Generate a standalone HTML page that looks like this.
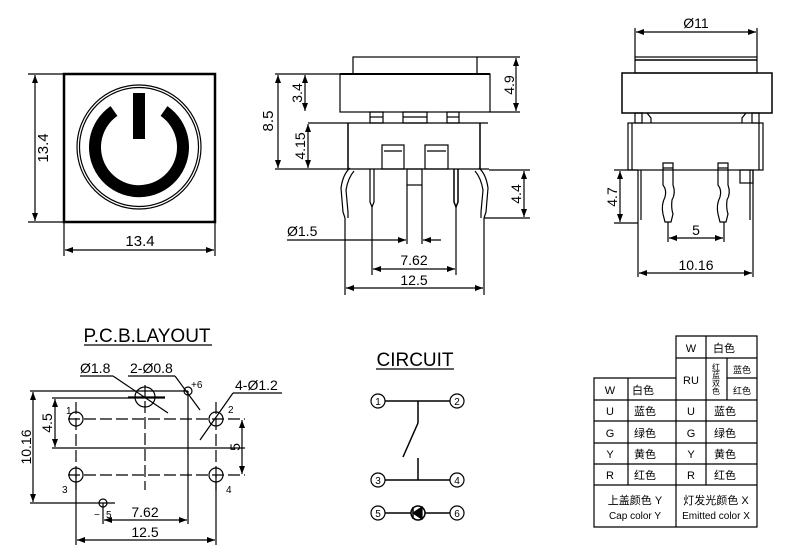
<!DOCTYPE html>
<html><head><meta charset="utf-8"><style>
html,body{margin:0;padding:0;background:#fff}
svg{display:block}
text{font-family:"Liberation Sans","Noto Sans CJK SC",sans-serif;fill:#000}
</style></head><body>
<svg width="800" height="558" viewBox="0 0 800 558" xmlns="http://www.w3.org/2000/svg">
<defs>
<marker id="a" markerWidth="8" markerHeight="6" refX="8" refY="3" orient="auto-start-reverse" markerUnits="userSpaceOnUse"><path d="M0,0 L8,3 L0,6 z" fill="#000"/></marker>
</defs>
<g stroke="#000" fill="none" stroke-width="1.2">
<!-- FRONT VIEW -->
<rect x="64" y="74" width="151" height="148" stroke-width="2.5"/>
<circle cx="139" cy="147" r="62"/>
<circle cx="139" cy="147" r="59.5"/>
<path d="M114,111 A44,44 0 1 0 164,111" stroke-width="12"/>
<rect x="133" y="93" width="12" height="46" fill="#000" stroke="none"/>
<line x1="28" y1="74" x2="64" y2="74"/><line x1="28" y1="222" x2="64" y2="222"/>
<line x1="35" y1="75" x2="35" y2="221" marker-start="url(#a)" marker-end="url(#a)"/>
<line x1="64" y1="222" x2="64" y2="256"/><line x1="215" y1="222" x2="215" y2="256"/>
<line x1="65" y1="250" x2="214" y2="250" marker-start="url(#a)" marker-end="url(#a)"/>

<!-- SIDE VIEW -->
<rect x="353" y="57" width="124" height="17"/>
<line x1="340" y1="74" x2="490" y2="74" stroke-width="2"/>
<rect x="340" y="74" width="150" height="38"/>
<rect x="370" y="112" width="13" height="11"/><line x1="370" y1="117" x2="383" y2="117"/>
<rect x="403" y="112" width="24" height="11"/><line x1="403" y1="117" x2="427" y2="117"/>
<rect x="447" y="112" width="12" height="11"/><line x1="447" y1="117" x2="459" y2="117"/>
<line x1="308" y1="123" x2="488" y2="123"/>
<line x1="348" y1="123" x2="348" y2="169" stroke-width="1.5"/><line x1="480" y1="123" x2="480" y2="169" stroke-width="1.5"/>
<line x1="275" y1="169" x2="489" y2="169"/>
<rect x="382" y="145" width="22" height="24"/><line x1="384" y1="151" x2="402" y2="151"/>
<rect x="425" y="145" width="23" height="24"/><line x1="427" y1="151" x2="446" y2="151"/>
<path d="M370,169 V202 L372,207 L374,202 V169"/>
<path d="M454,169 V202 L456,207 L458,202 V169" stroke-width="1.5"/>
<rect x="407" y="169" width="15" height="16"/>
<line x1="407" y1="185" x2="407" y2="244"/><line x1="422" y1="185" x2="422" y2="244"/>
<line x1="372" y1="207" x2="372" y2="275"/><line x1="456" y1="207" x2="456" y2="275"/>
<path d="M350,168 Q343,174 341,188 L343,212 L345,218 M354,171 Q348,178 346,190 L348,212 L348,218"/>
<path d="M479,168 Q486,174 488,188 L486,212 L484,218 M475,171 Q481,178 483,190 L481,212 L481,218"/>
<line x1="345" y1="218" x2="345" y2="295"/><line x1="484" y1="218" x2="484" y2="295"/>
<line x1="484" y1="218" x2="530" y2="218"/><line x1="489" y1="170" x2="530" y2="170"/>
<line x1="524" y1="171" x2="524" y2="217" marker-start="url(#a)" marker-end="url(#a)"/>
<line x1="275" y1="74" x2="340" y2="74"/>
<line x1="278" y1="75" x2="278" y2="168" marker-start="url(#a)" marker-end="url(#a)"/>
<line x1="305" y1="75" x2="305" y2="111" marker-start="url(#a)" marker-end="url(#a)"/>
<line x1="308" y1="124" x2="308" y2="168" marker-start="url(#a)" marker-end="url(#a)"/>
<line x1="477" y1="57" x2="520" y2="57"/><line x1="490" y1="112" x2="520" y2="112"/>
<line x1="516" y1="58" x2="516" y2="111" marker-start="url(#a)" marker-end="url(#a)"/>
<line x1="287" y1="240" x2="406" y2="240" marker-end="url(#a)"/>
<line x1="441" y1="240" x2="423" y2="240" marker-end="url(#a)"/>
<line x1="373" y1="269" x2="455" y2="269" marker-start="url(#a)" marker-end="url(#a)"/>
<line x1="346" y1="288" x2="483" y2="288" marker-start="url(#a)" marker-end="url(#a)"/>

<!-- RIGHT VIEW -->
<rect x="635" y="57" width="122" height="16"/><line x1="635" y1="60" x2="757" y2="60" stroke-width="1.5"/>
<line x1="635" y1="57" x2="635" y2="28"/><line x1="757" y1="57" x2="757" y2="28"/>
<line x1="636" y1="32" x2="756" y2="32" marker-start="url(#a)" marker-end="url(#a)"/>
<rect x="622" y="73" width="150" height="40" stroke-width="1.5"/>
<rect x="635" y="113" width="7" height="10"/><rect x="752" y="113" width="7" height="10"/>
<path d="M647,113 L651,118 V123 M746,113 L742,118 V123"/>
<rect x="628" y="123" width="135" height="47"/>
<line x1="632" y1="123" x2="632" y2="170"/><line x1="759" y1="123" x2="759" y2="170"/>
<path d="M638,170 V222 M641,170 V220 M750,170 V220 M753,170 V222"/>
<rect x="740" y="170" width="13" height="13"/>
<path d="M663,163 H673 V185 Q676,193 672,200 Q671,208 673,214 L671,222 H665 L663,214 Q661,205 665,197 Q667,190 663,185 Z"/>
<line x1="663" y1="168" x2="673" y2="168"/>
<path d="M718,163 H728 V185 Q731,193 727,200 Q726,208 728,214 L726,222 H720 L718,214 Q716,205 720,197 Q722,190 718,185 Z"/>
<line x1="718" y1="168" x2="728" y2="168"/>
<line x1="614" y1="170" x2="638" y2="170"/><line x1="614" y1="223" x2="638" y2="223"/>
<line x1="620" y1="171" x2="620" y2="222" marker-start="url(#a)" marker-end="url(#a)"/>
<line x1="668" y1="222" x2="668" y2="242"/><line x1="724" y1="222" x2="724" y2="242"/>
<line x1="669" y1="238" x2="723" y2="238" marker-start="url(#a)" marker-end="url(#a)"/>
<line x1="638" y1="222" x2="638" y2="277"/><line x1="753" y1="222" x2="753" y2="277"/>
<line x1="639" y1="273" x2="752" y2="273" marker-start="url(#a)" marker-end="url(#a)"/>

<!-- PCB LAYOUT -->
<line x1="84" y1="345" x2="212" y2="345"/>
<g stroke-dasharray="12,4">
<line x1="68" y1="419" x2="245" y2="419"/><line x1="68" y1="475" x2="245" y2="475"/>
<line x1="76" y1="402" x2="76" y2="490"/><line x1="216" y1="402" x2="216" y2="490"/>
<line x1="145" y1="385" x2="145" y2="490"/>
</g>
<circle cx="76" cy="419" r="7"/><circle cx="216" cy="419" r="7"/>
<circle cx="76" cy="475" r="7"/><circle cx="216" cy="475" r="7"/>
<circle cx="145" cy="397" r="10"/><line x1="128" y1="397" x2="165" y2="397"/>
<circle cx="188" cy="391" r="4"/><circle cx="103" cy="503" r="4"/>
<line x1="30" y1="391" x2="188" y2="391"/><line x1="30" y1="503" x2="115" y2="503"/>
<line x1="33" y1="392" x2="33" y2="502" marker-start="url(#a)" marker-end="url(#a)"/>
<line x1="52" y1="398" x2="165" y2="398"/><line x1="52" y1="448" x2="245" y2="448"/>
<line x1="55" y1="399" x2="55" y2="447" marker-start="url(#a)" marker-end="url(#a)"/>
<line x1="242" y1="420" x2="242" y2="474" marker-start="url(#a)" marker-end="url(#a)"/>
<line x1="188" y1="391" x2="188" y2="524"/><line x1="103" y1="503" x2="103" y2="524"/>
<line x1="104" y1="520" x2="187" y2="520" marker-start="url(#a)" marker-end="url(#a)"/>
<line x1="76" y1="475" x2="76" y2="545"/><line x1="216" y1="475" x2="216" y2="545"/>
<line x1="77" y1="540" x2="215" y2="540" marker-start="url(#a)" marker-end="url(#a)"/>
<line x1="80" y1="376" x2="113" y2="376"/><line x1="113" y1="376" x2="168" y2="413"/>
<line x1="128" y1="376" x2="175" y2="376"/><line x1="175" y1="376" x2="200" y2="410"/>
<line x1="233" y1="393" x2="282" y2="393"/><line x1="233" y1="393" x2="200" y2="440"/>

<!-- CIRCUIT -->
<line x1="376" y1="369" x2="454" y2="369"/>
<circle cx="378" cy="401" r="7"/><circle cx="457" cy="401" r="7"/>
<circle cx="378" cy="480" r="7"/><circle cx="457" cy="480" r="7"/>
<circle cx="378" cy="513" r="7"/><circle cx="457" cy="513" r="7"/>
<line x1="385" y1="401" x2="450" y2="401" stroke-width="1.5"/>
<line x1="385" y1="480" x2="450" y2="480" stroke-width="1.5"/>
<line x1="385" y1="513" x2="450" y2="513" stroke-width="1.5"/>
<line x1="418" y1="401" x2="418" y2="423" stroke-width="1.5"/>
<line x1="418" y1="423" x2="403" y2="457" stroke-width="1.5"/>
<line x1="418" y1="458" x2="418" y2="480" stroke-width="1.5"/>
<circle cx="418" cy="513" r="7" fill="#fff" stroke-width="1.5"/>
<path d="M422,507 V519 L413,513 Z" fill="#000"/><line x1="413" y1="507" x2="413" y2="519" stroke-width="1.5"/>

<!-- TABLE -->
<g stroke-width="1.2">
<path d="M676,336 H757 V527 H594 V378 H676 Z"/>
<line x1="676" y1="358" x2="757" y2="358"/>
<line x1="594" y1="400" x2="757" y2="400"/><line x1="594" y1="421" x2="757" y2="421"/>
<line x1="594" y1="443" x2="757" y2="443"/><line x1="594" y1="464" x2="757" y2="464"/>
<line x1="594" y1="485" x2="757" y2="485"/>
<line x1="628" y1="378" x2="628" y2="485"/>
<line x1="676" y1="378" x2="676" y2="527"/>
<line x1="706" y1="336" x2="706" y2="400"/><line x1="706" y1="400" x2="706" y2="485"/>
<line x1="727" y1="358" x2="727" y2="400"/><line x1="727" y1="378" x2="757" y2="378"/>
</g>
</g>

<!-- TEXT -->
<g font-size="14">
<text x="48" y="148" transform="rotate(-90 48 148)" text-anchor="middle" font-size="15">13.4</text>
<text x="140" y="246" text-anchor="middle" font-size="15">13.4</text>
<text x="273" y="121" transform="rotate(-90 273 121)" text-anchor="middle" font-size="15">8.5</text>
<text x="302" y="93" transform="rotate(-90 302 93)" text-anchor="middle">3.4</text>
<text x="305" y="146" transform="rotate(-90 305 146)" text-anchor="middle">4.15</text>
<text x="514" y="85" transform="rotate(-90 514 85)" text-anchor="middle">4.9</text>
<text x="521" y="194" transform="rotate(-90 521 194)" text-anchor="middle">4.4</text>
<text x="287" y="236">Ø1.5</text>
<text x="414" y="265" text-anchor="middle">7.62</text>
<text x="414" y="285" text-anchor="middle">12.5</text>
<text x="696" y="28" text-anchor="middle">Ø11</text>
<text x="617" y="197" transform="rotate(-90 617 197)" text-anchor="middle">4.7</text>
<text x="696" y="235" text-anchor="middle">5</text>
<text x="696" y="270" text-anchor="middle">10.16</text>
<text x="147" y="342" text-anchor="middle" font-size="19">P.C.B.LAYOUT</text>
<text x="80" y="373">Ø1.8</text>
<text x="130" y="373">2-Ø0.8</text>
<text x="191" y="388" font-size="10">+6</text>
<text x="235" y="390">4-Ø1.2</text>
<text x="31" y="447" transform="rotate(-90 31 447)" text-anchor="middle">10.16</text>
<text x="52" y="423" transform="rotate(-90 52 423)" text-anchor="middle">4.5</text>
<text x="240" y="447" transform="rotate(-90 240 447)" text-anchor="middle">5</text>
<text x="66" y="414" font-size="10">1</text>
<text x="228" y="413" font-size="10">2</text>
<text x="62" y="493" font-size="10">3</text>
<text x="226" y="493" font-size="10">4</text>
<text x="94" y="518" font-size="10">−</text><text x="106" y="518" font-size="10">5</text>
<text x="145" y="517" text-anchor="middle">7.62</text>
<text x="145" y="537" text-anchor="middle">12.5</text>
<text x="415" y="366" text-anchor="middle" font-size="19">CIRCUIT</text>
<g font-size="10" text-anchor="middle">
<text x="378" y="405">1</text><text x="457" y="405">2</text>
<text x="378" y="484">3</text><text x="457" y="484">4</text>
<text x="378" y="517">5</text><text x="457" y="517">6</text>
</g>
<g font-size="11">
<text x="691" y="352" text-anchor="middle">W</text><text x="713" y="352">白色</text>
<text x="691" y="384" text-anchor="middle">RU</text>
<text x="716" y="379" font-size="8" text-anchor="middle" writing-mode="tb">红蓝双色</text>
<text x="742" y="373" font-size="9" text-anchor="middle">蓝色</text>
<text x="742" y="394" font-size="9" text-anchor="middle">红色</text>
<text x="610" y="394" text-anchor="middle">W</text><text x="632" y="394">白色</text>
<text x="610" y="415" text-anchor="middle">U</text><text x="634" y="415">蓝色</text>
<text x="610" y="437" text-anchor="middle">G</text><text x="634" y="437">绿色</text>
<text x="610" y="458" text-anchor="middle">Y</text><text x="634" y="458">黄色</text>
<text x="610" y="479" text-anchor="middle">R</text><text x="634" y="479">红色</text>
<text x="691" y="415" text-anchor="middle">U</text><text x="714" y="415">蓝色</text>
<text x="691" y="437" text-anchor="middle">G</text><text x="714" y="437">绿色</text>
<text x="691" y="458" text-anchor="middle">Y</text><text x="714" y="458">黄色</text>
<text x="691" y="479" text-anchor="middle">R</text><text x="714" y="479">红色</text>
<text x="635" y="504" text-anchor="middle">上盖颜色 Y</text>
<text x="635" y="519" text-anchor="middle" font-size="10">Cap color Y</text>
<text x="716" y="504" text-anchor="middle">灯发光颜色 X</text>
<text x="716" y="519" text-anchor="middle" font-size="10">Emitted color X</text>
</g>
</g>
</svg>
</body></html>
